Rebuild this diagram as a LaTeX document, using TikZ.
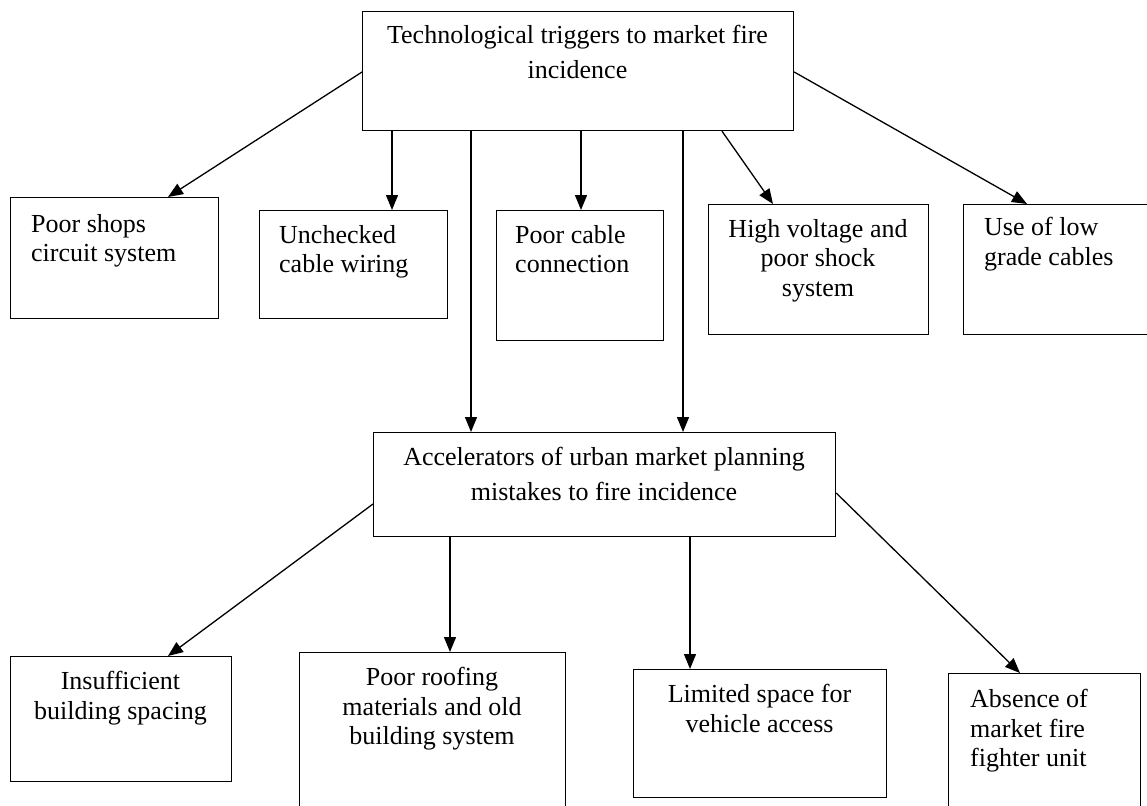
\documentclass[tikz,border=0pt]{standalone}
\usepackage{fontspec}
\setmainfont{Liberation Serif}
\usetikzlibrary{arrows.meta}
\begin{document}
\begin{tikzpicture}[x=1pt,y=-1pt,
  box/.style={draw=black, line width=1.2pt, rectangle, inner sep=0pt, anchor=north west},
  lt/.style={inner sep=0pt, align=left, anchor=north west, font=\fontsize{26}{29.5}\selectfont},
  ct/.style={inner sep=0pt, align=center, anchor=north, font=\fontsize{26}{29.5}\selectfont},
  ht/.style={inner sep=0pt, align=center, anchor=north, font=\fontsize{26}{34.5}\selectfont},
  arr/.style={line width=1.3pt, -{Triangle[length=15pt,width=12pt]}}]
\useasboundingbox (0,0) rectangle (1147,805);
\fill[white] (0,0) rectangle (1147,805);
% boxes
\node[box, minimum width=431pt, minimum height=119pt] (top) at (362,11) {};
\node[box, minimum width=208pt, minimum height=121pt] (b1) at (10,197) {};
\node[box, minimum width=188pt, minimum height=108pt] (b2) at (259,210) {};
\node[box, minimum width=167pt, minimum height=130pt] (b3) at (496,210) {};
\node[box, minimum width=220pt, minimum height=130pt] (b4) at (708,204) {};
\node[box, minimum width=190pt, minimum height=130pt] (b5) at (963,204) {};
\node[box, minimum width=462pt, minimum height=104pt] (mid) at (373,432) {};
\node[box, minimum width=221pt, minimum height=125pt] (b6) at (10,656) {};
\node[box, minimum width=266pt, minimum height=165pt] (b7) at (299,652) {};
\node[box, minimum width=253pt, minimum height=128pt] (b8) at (633,669) {};
\node[box, minimum width=192pt, minimum height=145pt] (b9) at (948,673) {};
% texts
\node[ht] (t0) at (577.5,25.2) {Technological triggers to market fire\\incidence};
\node[lt] (t1) at (31,214.2) {Poor shops\\circuit system};
\node[lt] (t2) at (279,225.2) {Unchecked\\cable wiring};
\node[lt] (t3) at (515,225.2) {Poor cable\\connection};
\node[ct] (t4) at (818,219.2) {High voltage and\\poor shock\\system};
\node[lt] (t5) at (984,217.2) {Use of low\\grade cables};
\node[ht] (tm) at (604,447.2) {Accelerators of urban market planning\\mistakes to fire incidence};
\node[ct] (t6) at (120.5,671.2) {Insufficient\\building spacing};
\node[ct] (t7) at (432,667.2) {Poor roofing\\materials and old\\building system};
\node[ct] (t8) at (759.5,684.2) {Limited space for\\vehicle access};
\node[lt] (t9) at (970,689.2) {Absence of\\market fire\\fighter unit};
% arrows
\draw[arr] (top.west |- 0,72) -- (168,0 |- b1.north);
\draw[arr] (392,0 |- top.south) -- (392,0 |- b2.north);
\draw[arr] (471,0 |- top.south) -- (471,0 |- mid.north);
\draw[arr] (581,0 |- top.south) -- (581,0 |- b3.north);
\draw[arr] (683,0 |- top.south) -- (683,0 |- mid.north);
\draw[arr] (722,0 |- top.south) -- (773,0 |- b4.north);
\draw[arr] (top.east |- 0,72) -- (1027,0 |- b5.north);
\draw[arr] (mid.west |- 0,504) -- (168,0 |- b6.north);
\draw[arr] (450,0 |- mid.south) -- (450,0 |- b7.north);
\draw[arr] (690,0 |- mid.south) -- (690,0 |- b8.north);
\draw[arr] (mid.east |- 0,493) -- (1020,0 |- b9.north);
\end{tikzpicture}
\end{document}
